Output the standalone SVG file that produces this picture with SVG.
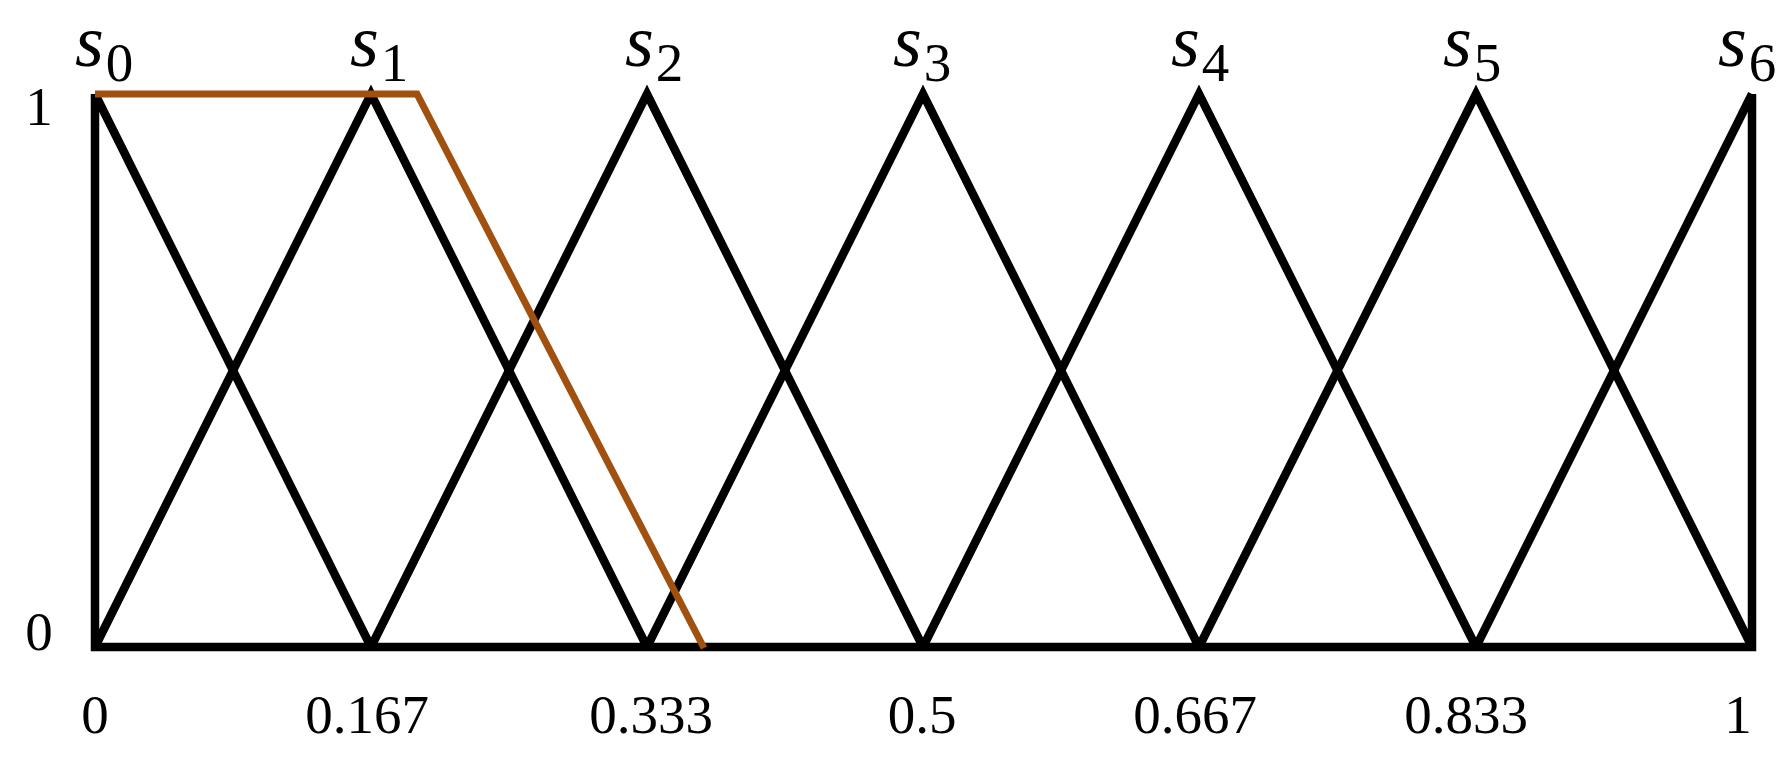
<svg xmlns="http://www.w3.org/2000/svg" width="1783" height="769" viewBox="0 0 1783 769">
<style>
.mf{fill:none;stroke:#000;stroke-width:8.5;stroke-linejoin:miter;stroke-linecap:butt}
.hl{fill:none;stroke:#A0500F;stroke-width:7;stroke-linejoin:miter;stroke-linecap:butt}
.lab{font-family:"Liberation Serif","Times New Roman",serif;font-size:74px;font-style:italic;fill:#000}
.sub{font-size:55px;font-style:normal}
.tick{font-family:"Liberation Serif","Times New Roman",serif;font-size:55px;fill:#000;text-anchor:middle}
</style>
<rect width="1783" height="769" fill="#fff"/>
<g id="axes">
<polyline class="mf" points="95,94 95,647 1752,647 1752,94"/>
</g>
<g id="s0"><polyline class="mf" points="95,94 371,647"/><text class="lab" x="75" y="66">s<tspan class="sub" dx="2" dy="15">0</tspan></text></g>
<g id="s1"><polyline class="mf" points="95,647 371,94 647,647"/><text class="lab" x="350" y="66">s<tspan class="sub" dx="2" dy="15">1</tspan></text></g>
<g id="s2"><polyline class="mf" points="371,647 647,94 923,647"/><text class="lab" x="625" y="66">s<tspan class="sub" dx="2" dy="15">2</tspan></text></g>
<g id="s3"><polyline class="mf" points="647,647 923,94 1199,647"/><text class="lab" x="893" y="66">s<tspan class="sub" dx="2" dy="15">3</tspan></text></g>
<g id="s4"><polyline class="mf" points="923,647 1199,94 1476,647"/><text class="lab" x="1171" y="66">s<tspan class="sub" dx="2" dy="15">4</tspan></text></g>
<g id="s5"><polyline class="mf" points="1199,647 1476,94 1752,647"/><text class="lab" x="1443" y="66">s<tspan class="sub" dx="2" dy="15">5</tspan></text></g>
<g id="s6"><polyline class="mf" points="1476,647 1752,94"/><text class="lab" x="1718" y="66">s<tspan class="sub" dx="2" dy="15">6</tspan></text></g>
<g id="connectors">
<polyline class="hl" points="95,94 417,94 704,648"/>
</g>
<g id="yticks">
<text class="tick" x="39" y="125">1</text>
<text class="tick" x="39" y="650">0</text>
</g>
<g id="xticks">
<text class="tick" x="95" y="733">0</text>
<text class="tick" x="367" y="733">0.167</text>
<text class="tick" x="651" y="733">0.333</text>
<text class="tick" x="922" y="733">0.5</text>
<text class="tick" x="1195" y="733">0.667</text>
<text class="tick" x="1466" y="733">0.833</text>
<text class="tick" x="1738" y="733">1</text>
</g>
</svg>
